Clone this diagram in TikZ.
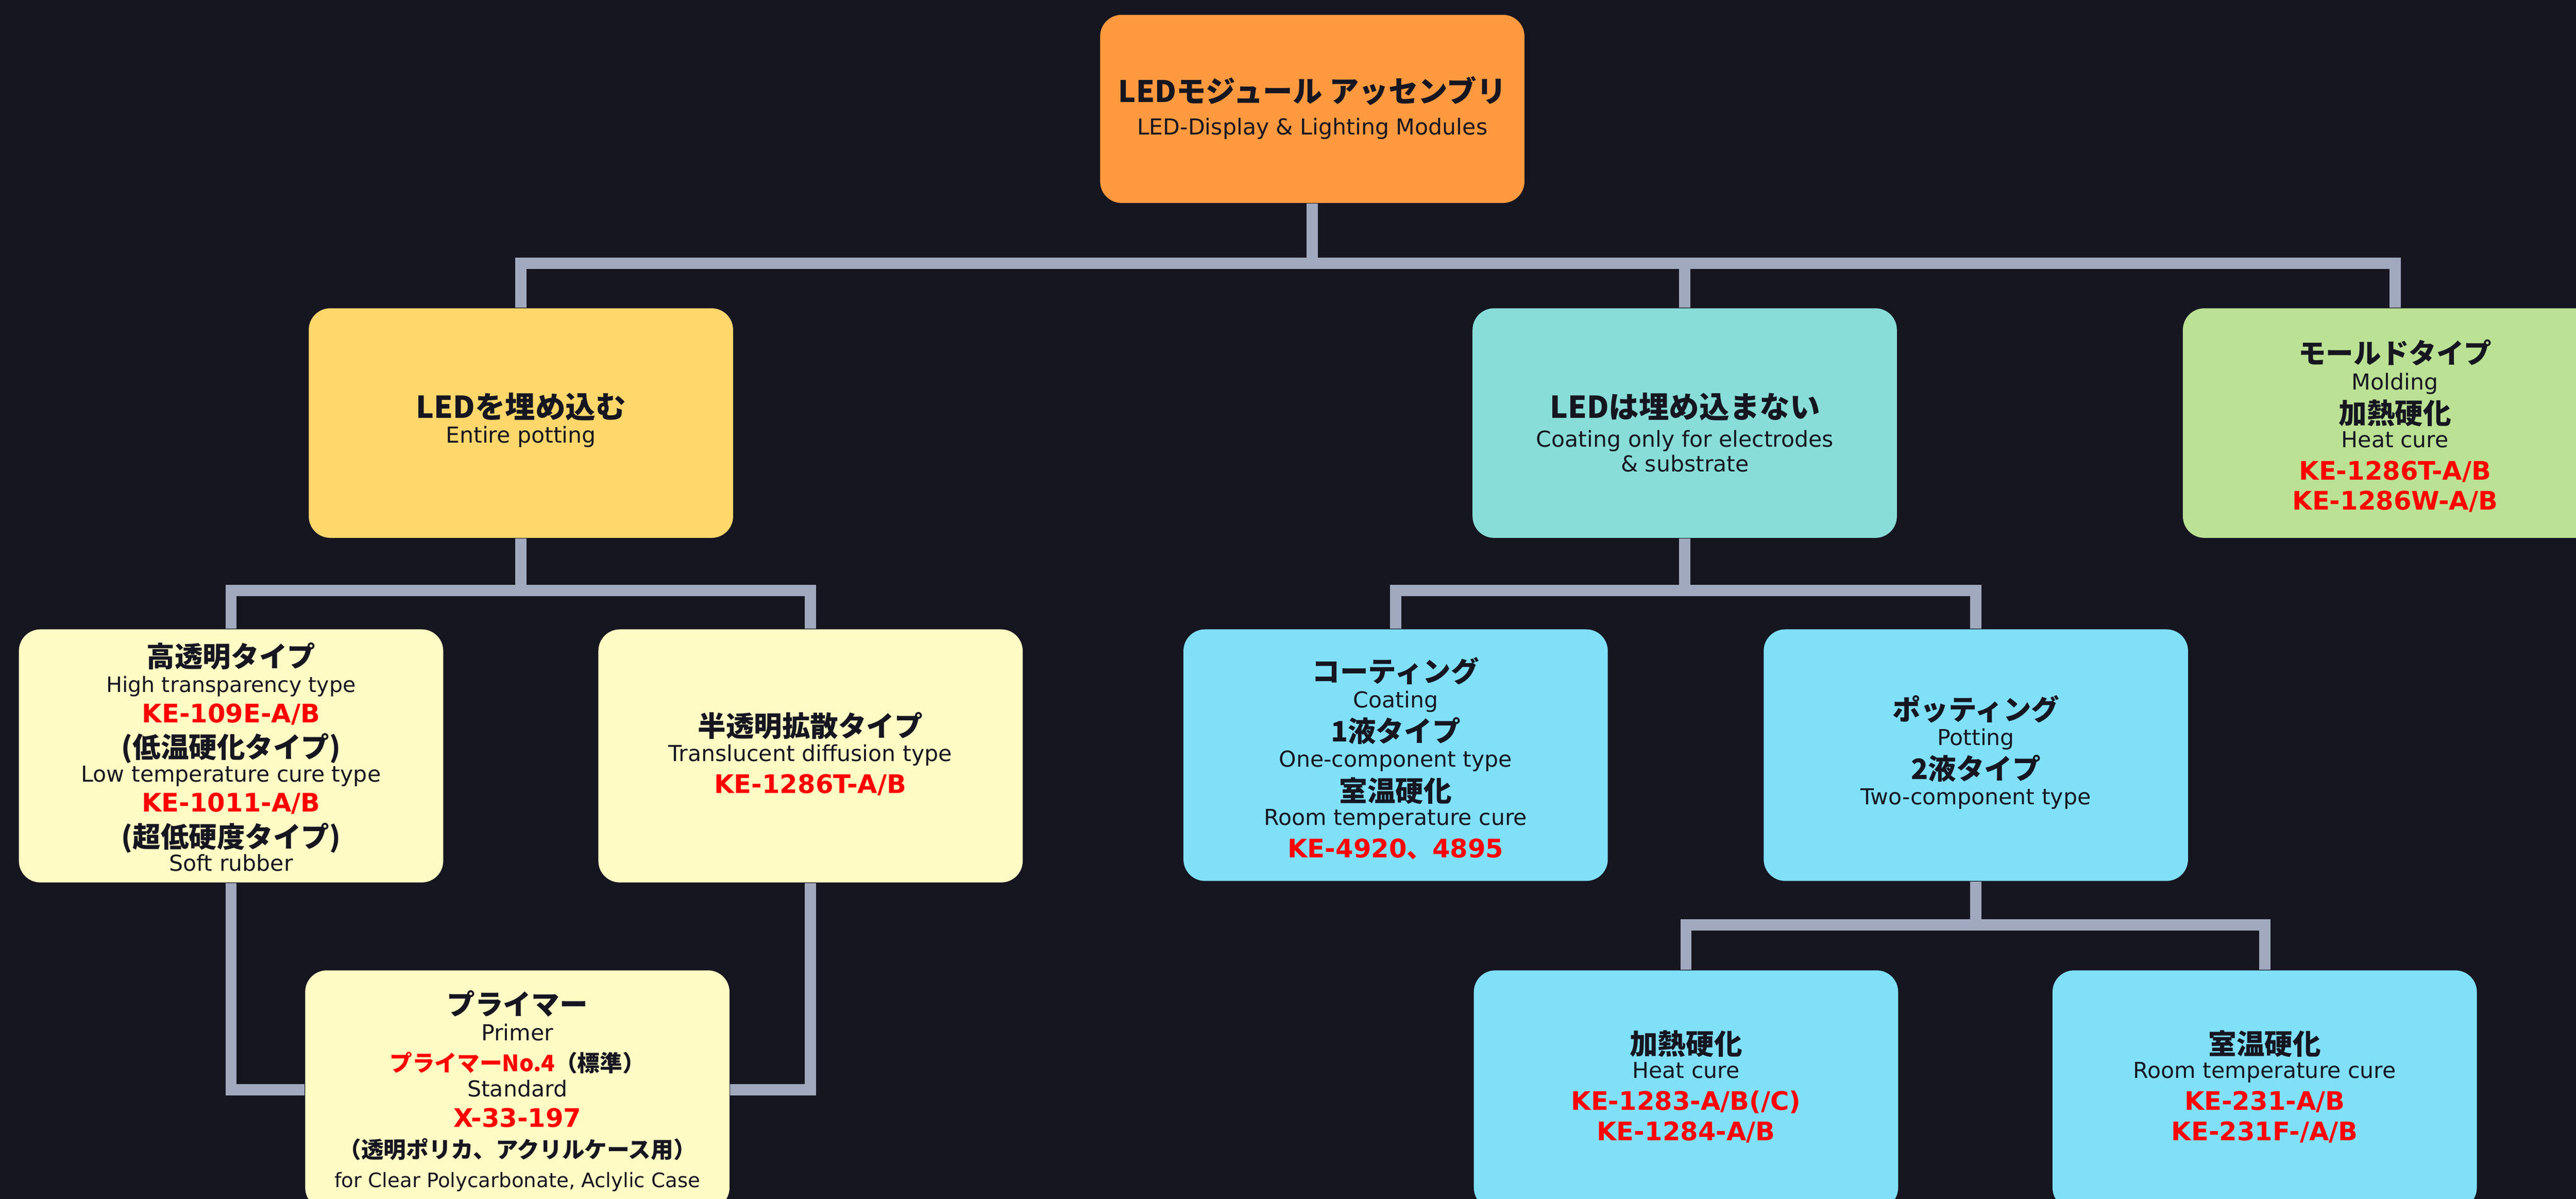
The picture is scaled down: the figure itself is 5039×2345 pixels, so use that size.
\documentclass[tikz,border=0pt]{standalone}
\usepackage{tikz}
\usepackage{fontspec}
\newfontfamily\jp{Noto Sans CJK JP}
\newfontfamily\en{DejaVu Sans}
\definecolor{bgc}{HTML}{161621}
\definecolor{cline}{HTML}{A0A9BE}
\definecolor{ctop}{HTML}{FF993F}
\definecolor{cemb}{HTML}{FFD76B}
\definecolor{cpale}{HTML}{FFFBC4}
\definecolor{cteal}{HTML}{88DDD8}
\definecolor{cblue}{HTML}{80E0F8}
\definecolor{cgreen}{HTML}{BBE194}
\definecolor{redc}{HTML}{FF0000}
\definecolor{ink}{HTML}{161621}
\pgfdeclarelayer{backdrop}
\pgfdeclarelayer{bg}
\pgfsetlayers{backdrop,bg,main}
\newcommand\JH[2]{{\jp\bfseries\fontsize{#1}{#1}\selectfont #2}}
\newcommand\EN[2]{{\en\fontsize{#1}{#1}\selectfont #2}}
\newcommand\RC[2]{{\en\bfseries\color{redc}\fontsize{#1}{#1}\selectfont #2}}
\tikzset{
  card/.style={rounded corners=8.4pt, inner sep=0pt, draw=none, minimum width=166pt},
  wire/.style={draw=cline, line width=4.4pt, line join=miter},
  txt/.style={inner sep=0pt, anchor=base, text=ink}
}
\begin{document}
\begin{tikzpicture}[x=0.2pt,y=-0.2pt]
\useasboundingbox (0,0) rectangle (5039,2345);
\begin{pgfonlayer}{backdrop}
\fill[bgc] (0,0) rectangle (5039,2345);
\end{pgfonlayer}
\begin{scope}
\clip (0,0) rectangle (5039,2345);
% boxes
\node[card, fill=ctop,  minimum height=73.6pt] (top)     at (2567,213) {};
\node[card, fill=cemb,  minimum height=89.8pt] (embed)   at (1019,827.5) {};
\node[card, fill=cteal, minimum height=89.8pt] (noembed) at (3295.5,827.5) {};
\node[card, fill=cgreen,minimum height=89.8pt] (mold)    at (4685,827.5) {};
\node[card, fill=cpale, minimum height=99pt]   (hightr)  at (452,1478.5) {};
\node[card, fill=cpale, minimum height=99pt]   (transl)  at (1585.5,1478.5) {};
\node[card, fill=cblue, minimum height=98.4pt] (coat)    at (2730,1477) {};
\node[card, fill=cblue, minimum height=98.4pt] (pot)     at (3865,1477) {};
\node[card, fill=cpale, minimum height=93.4pt] (primer)  at (1012,2131.5) {};
\node[card, fill=cblue, minimum height=93.4pt] (heat)    at (3298,2131.5) {};
\node[card, fill=cblue, minimum height=93.4pt] (rtc)     at (4430,2131.5) {};
% connectors
\coordinate (j1) at (2567,515);
\coordinate (j2) at (1019,1155);
\coordinate (j3) at (3295.5,1155);
\coordinate (j4) at (3865,1809);
\begin{pgfonlayer}{bg}
\draw[wire] (top.south) -- (j1);
\draw[wire] (embed.north) |- (j1) -| (mold.north);
\draw[wire] (noembed.north) -- (noembed.north |- j1);
\draw[wire] (embed.south) -- (j2);
\draw[wire] (hightr.north) |- (j2) -| (transl.north);
\draw[wire] (noembed.south) -- (j3);
\draw[wire] (coat.north) |- (j3) -| (pot.north);
\draw[wire] (pot.south) -- (j4);
\draw[wire] (heat.north) |- (j4) -| (rtc.north);
\draw[wire] (hightr.south) |- (primer.west);
\draw[wire] (transl.south) |- (primer.east);
\end{pgfonlayer}
% top
\node[txt] (t1) at (2567,200) {\JH{11.6pt}{LEDモジュール アッセンブリ}};
\node[txt] (t2) at (2567,264) {\EN{8.6pt}{LED-Display \& Lighting Modules}};
% embed
\node[txt] (e1) at (1019,818) {\JH{11.8pt}{LEDを埋め込む}};
\node[txt] (e2) at (1019,866) {\EN{8.6pt}{Entire potting}};
% noembed
\node[txt] (n1) at (3296,818) {\JH{11.8pt}{LEDは埋め込まない}};
\node[txt] (n2) at (3296,874) {\EN{8.6pt}{Coating only for electrodes}};
\node[txt] (n3) at (3296,923) {\EN{8.6pt}{\& substrate}};
% mold
\node[txt] (m1) at (4685,711) {\JH{10.8pt}{モールドタイプ}};
\node[txt] (m2) at (4685,762) {\EN{8.6pt}{Molding}};
\node[txt] (m3) at (4685,829) {\JH{11pt}{加熱硬化}};
\node[txt] (m4) at (4685,875) {\EN{8.6pt}{Heat cure}};
\node[txt] (m5) at (4685,939) {\RC{10pt}{KE-1286T-A/B}};
\node[txt] (m6) at (4685,997) {\RC{10pt}{KE-1286W-A/B}};
% high transparency
\node[txt] (h1) at (452,1305) {\JH{11pt}{高透明タイプ}};
\node[txt] (h2) at (452,1354) {\EN{8.3pt}{High transparency type}};
\node[txt] (h3) at (452,1413) {\RC{10pt}{KE-109E-A/B}};
\node[txt] (h4) at (452,1482) {\JH{11pt}{(低温硬化タイプ)}};
\node[txt] (h5) at (452,1529) {\EN{8.6pt}{Low temperature cure type}};
\node[txt] (h6) at (452,1588) {\RC{10pt}{KE-1011-A/B}};
\node[txt] (h7) at (452,1657) {\JH{11pt}{(超低硬度タイプ)}};
\node[txt] (h8) at (452,1704) {\EN{8.6pt}{Soft rubber}};
% translucent
\node[txt] (r1) at (1585,1441) {\JH{11pt}{半透明拡散タイプ}};
\node[txt] (r2) at (1585,1489) {\EN{8.6pt}{Translucent diffusion type}};
\node[txt] (r3) at (1585,1551) {\RC{10pt}{KE-1286T-A/B}};
% coating
\node[txt] (c1) at (2730,1334) {\JH{11pt}{コーティング}};
\node[txt] (c2) at (2730,1384) {\EN{8.6pt}{Coating}};
\node[txt] (c3) at (2730,1451) {\JH{11pt}{1液タイプ}};
\node[txt] (c4) at (2730,1500) {\EN{8.6pt}{One-component type}};
\node[txt] (c5) at (2730,1568) {\JH{11pt}{室温硬化}};
\node[txt] (c6) at (2730,1614) {\EN{8.6pt}{Room temperature cure}};
\node[txt] (c7) at (2730,1677) {\RC{10pt}{KE-4920{\jp 、}4895}};
% potting
\node[txt] (p1) at (3865,1408) {\JH{11pt}{ポッティング}};
\node[txt] (p2) at (3865,1458) {\EN{8.6pt}{Potting}};
\node[txt] (p3) at (3865,1524) {\JH{11pt}{2液タイプ}};
\node[txt] (p4) at (3865,1574) {\EN{8.6pt}{Two-component type}};
% heat cure
\node[txt] (k1) at (3298,2062) {\JH{11pt}{加熱硬化}};
\node[txt] (k2) at (3298,2109) {\EN{8.6pt}{Heat cure}};
\node[txt] (k3) at (3298,2171) {\RC{10pt}{KE-1283-A/B(/C)}};
\node[txt] (k4) at (3298,2231) {\RC{10pt}{KE-1284-A/B}};
% room temperature cure
\node[txt] (w1) at (4430,2062) {\JH{11pt}{室温硬化}};
\node[txt] (w2) at (4430,2109) {\EN{8.6pt}{Room temperature cure}};
\node[txt] (w3) at (4430,2171) {\RC{10pt}{KE-231-A/B}};
\node[txt] (w4) at (4430,2231) {\RC{10pt}{KE-231F-/A/B}};
% primer
\node[txt] (q1) at (1012,1985) {\JH{11pt}{プライマー}};
\node[txt] (q2) at (1012,2035) {\EN{8.6pt}{Primer}};
\node[txt] (q3) at (1012,2096) {\JH{8.8pt}{\textcolor{redc}{プライマーNo.4}（標準）}};
\node[txt] (q4) at (1012,2145) {\EN{8.6pt}{Standard}};
\node[txt] (q5) at (1012,2205) {\RC{10pt}{X-33-197}};
\node[txt] (q6) at (1012,2265) {\JH{8.8pt}{（透明ポリカ、アクリルケース用）}};
\node[txt] (q7) at (1012,2322) {\EN{7.8pt}{for Clear Polycarbonate, Aclylic Case}};
\end{scope}
\end{tikzpicture}
\end{document}
